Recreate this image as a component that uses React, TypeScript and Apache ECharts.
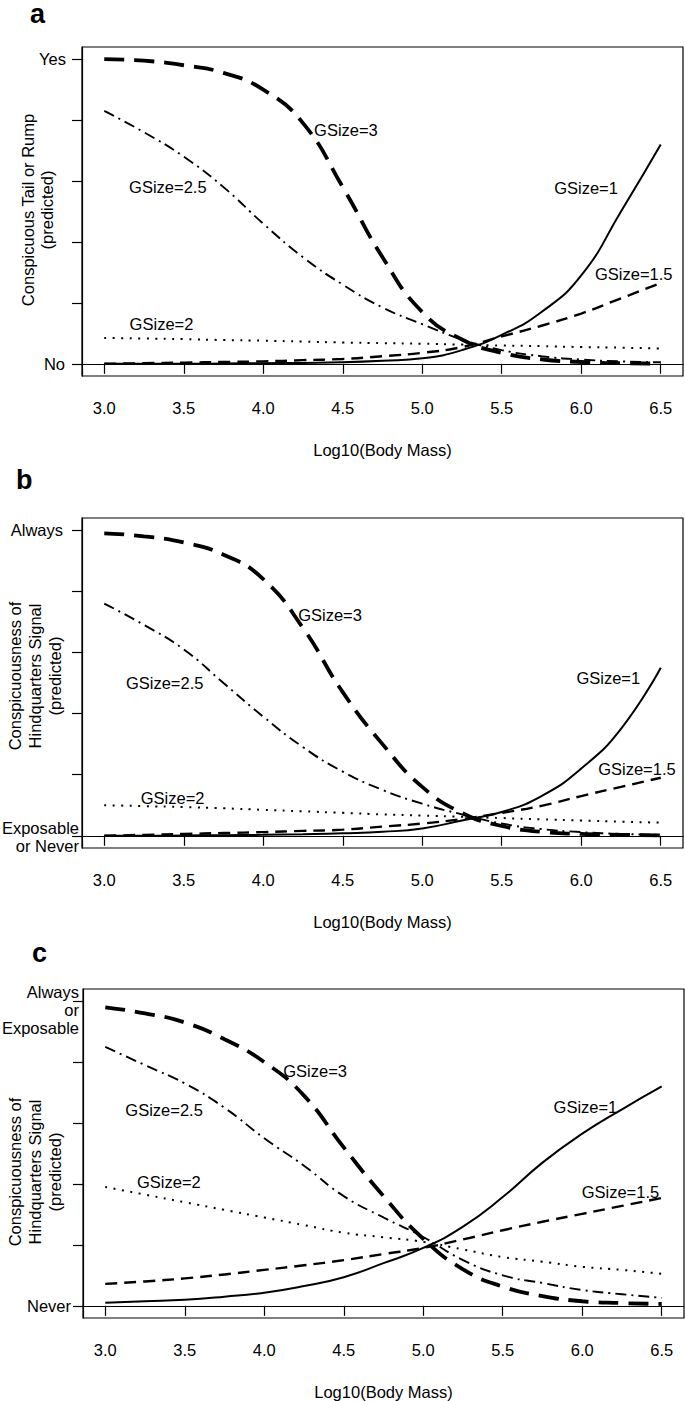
import * as echarts from 'echarts';
import { useEffect, useRef } from 'react';

// sample points along the x axis (log10 body mass)
const logMass = [3.0, 3.25, 3.5, 3.75, 4.0, 4.25, 4.5, 4.75, 5.0, 5.25, 5.5, 5.75, 6.0, 6.25, 6.5];
const xTicks = [3.0, 3.5, 4.0, 4.5, 5.0, 5.5, 6.0, 6.5];
const yTicks = [0, 0.2, 0.4, 0.6, 0.8, 1];
const groupLabels = ['GSize=1', 'GSize=1.5', 'GSize=2', 'GSize=2.5', 'GSize=3'];

// panel a: conspicuous tail or rump
const tailG1 = [0, 0, 0, 0.001, 0.002, 0.003, 0.005, 0.01, 0.018, 0.045, 0.095, 0.17, 0.29, 0.5, 0.72];
const tailG15 = [0, 0.002, 0.004, 0.006, 0.008, 0.012, 0.016, 0.025, 0.036, 0.055, 0.09, 0.125, 0.165, 0.215, 0.265];
const tailG2 = [0.085, 0.083, 0.081, 0.078, 0.076, 0.073, 0.07, 0.068, 0.066, 0.063, 0.06, 0.058, 0.055, 0.053, 0.05];
const tailG25 = [0.83, 0.76, 0.68, 0.58, 0.46, 0.35, 0.26, 0.185, 0.13, 0.08, 0.045, 0.025, 0.014, 0.008, 0.005];
const tailG3 = [1.0, 0.995, 0.98, 0.955, 0.9, 0.79, 0.58, 0.35, 0.17, 0.08, 0.036, 0.015, 0.006, 0.002, 0.001];

// panel b: hindquarters signal (always vs exposable/never)
const hindG1 = [0, 0, 0.001, 0.002, 0.003, 0.005, 0.008, 0.013, 0.024, 0.05, 0.078, 0.13, 0.22, 0.35, 0.55];
const hindG15 = [0, 0.003, 0.006, 0.009, 0.012, 0.016, 0.02, 0.03, 0.04, 0.055, 0.075, 0.098, 0.13, 0.16, 0.19];
const hindG2 = [0.1, 0.097, 0.094, 0.09, 0.085, 0.08, 0.075, 0.07, 0.066, 0.062, 0.058, 0.054, 0.05, 0.046, 0.043];
const hindG25 = [0.76, 0.69, 0.61, 0.5, 0.39, 0.29, 0.21, 0.15, 0.105, 0.07, 0.04, 0.022, 0.012, 0.006, 0.003];
const hindG3 = [0.99, 0.98, 0.96, 0.92, 0.84, 0.68, 0.47, 0.3, 0.16, 0.075, 0.032, 0.013, 0.006, 0.003, 0.001];

// panel c: hindquarters signal (always or exposable vs never)
const exposG1 = [0.01, 0.015, 0.02, 0.03, 0.043, 0.065, 0.094, 0.14, 0.19, 0.26, 0.357, 0.47, 0.565, 0.645, 0.72];
const exposG15 = [0.072, 0.08, 0.09, 0.103, 0.118, 0.133, 0.15, 0.17, 0.19, 0.218, 0.248, 0.276, 0.302, 0.328, 0.354];
const exposG2 = [0.39, 0.365, 0.34, 0.315, 0.29, 0.265, 0.24, 0.225, 0.21, 0.185, 0.16, 0.145, 0.128, 0.118, 0.105];
const exposG25 = [0.85, 0.79, 0.73, 0.65, 0.55, 0.46, 0.36, 0.29, 0.226, 0.15, 0.1, 0.075, 0.052, 0.038, 0.026];
const exposG3 = [0.98, 0.96, 0.93, 0.875, 0.8, 0.69, 0.52, 0.36, 0.22, 0.12, 0.063, 0.032, 0.015, 0.009, 0.006];

// where the curve labels sit, in data coordinates
const labelPosA = [[6.03, 0.576], [6.33, 0.296], [3.36, 0.132], [3.4, 0.579], [4.52, 0.766]];
const labelPosB = [[6.17, 0.516], [6.35, 0.217], [3.43, 0.125], [3.38, 0.5], [4.42, 0.724]];
const labelPosC = [[6.02, 0.652], [6.24, 0.374], [3.4, 0.407], [3.37, 0.643], [4.32, 0.77]];

const FONT = '"Liberation Sans", Arial, Helvetica, sans-serif';
const FS = 16.5;

const lineStyles = [
  { type: 'solid', width: 2 },
  { type: [12, 7], width: 2.4 },
  { type: [2, 6.5], width: 2 },
  { type: [11, 5, 2, 5], width: 1.9 },
  { type: [20, 10], width: 3.8 },
];

const panels = [
  {
    left: 82, top: 47, height: 329,
    curves: [tailG1, tailG15, tailG2, tailG25, tailG3],
    labels: labelPosA,
    letter: 'a', letterX: 30, letterY: 27,
    yTitle: 'Conspicuous Tail or Rump\n(predicted)', titleX: 37.5, titleY: 210, titleLH: 19,
    yLabels: [
      { v: 1, text: 'Yes', right: 66, dy: 0 },
      { v: 0, text: 'No', right: 65, dy: 0 },
    ],
  },
  {
    left: 82, top: 518, height: 330,
    curves: [hindG1, hindG15, hindG2, hindG25, hindG3],
    labels: labelPosB,
    letter: 'b', letterX: 16, letterY: 493,
    yTitle: 'Conspicuousness of\nHindquarters Signal\n(predicted)', titleX: 35, titleY: 676, titleLH: 20,
    yLabels: [
      { v: 1, text: 'Always', right: 63, dy: 0 },
      { v: 0, text: 'Exposable\nor Never', right: 79, dy: 1 },
    ],
  },
  {
    left: 83, top: 989, height: 329,
    curves: [exposG1, exposG15, exposG2, exposG25, exposG3],
    labels: labelPosC,
    letter: 'c', letterX: 32, letterY: 966,
    yTitle: 'Conspicuousness of\nHindquarters Signal\n(predicted)', titleX: 35, titleY: 1172, titleLH: 20,
    yLabels: [
      { v: 1, text: 'Always\nor\nExposable', right: 79, dy: 9 },
      { v: 0, text: 'Never', right: 71, dy: 0 },
    ],
  },
];

export default function App() {
  const chartRef = useRef<HTMLDivElement>(null);

  useEffect(() => {
    if (!chartRef.current) return;
    const chart = echarts.init(chartRef.current, null, { renderer: 'svg' });

    chart.setOption({
      animation: false,
      backgroundColor: '#fff',
      textStyle: { fontFamily: FONT },
      grid: panels.map((p) => ({
        left: p.left,
        top: p.top,
        width: 601,
        height: p.height,
        show: true,
        borderColor: '#000',
        borderWidth: 1.2,
        backgroundColor: 'transparent',
      })),
      xAxis: panels.map((_, i) => ({
        type: 'value',
        gridIndex: i,
        min: 2.86,
        max: 6.64,
        name: 'Log10(Body Mass)',
        nameLocation: 'middle',
        nameGap: 65,
        nameTextStyle: { fontSize: FS, color: '#000', fontFamily: FONT },
        axisLine: { show: true, lineStyle: { color: '#000', width: 1.2 } },
        splitLine: { show: false },
        axisTick: {
          show: true,
          inside: false,
          length: 10,
          customValues: xTicks,
          lineStyle: { color: '#000', width: 1.2 },
        },
        axisLabel: {
          customValues: xTicks,
          margin: 23,
          fontSize: FS,
          color: '#000',
          fontFamily: FONT,
          formatter: (v: number) => v.toFixed(1),
        },
      })),
      yAxis: panels.map((_, i) => ({
        type: 'value',
        gridIndex: i,
        min: -0.04,
        max: 1.04,
        axisLine: { show: true, lineStyle: { color: '#000', width: 1.2 } },
        splitLine: { show: false },
        axisTick: {
          show: true,
          inside: false,
          length: 10,
          customValues: yTicks,
          lineStyle: { color: '#000', width: 1.2 },
        },
        axisLabel: { show: false },
      })),
      series: panels.flatMap((p, i) =>
        p.curves.map((vals, k) => ({
          type: 'line',
          name: groupLabels[k],
          xAxisIndex: i,
          yAxisIndex: i,
          data: logMass.map((x, j) => [x, vals[j]]),
          smooth: 0.5,
          showSymbol: false,
          silent: true,
          lineStyle: { color: '#000', ...lineStyles[k], cap: 'butt' },
        }))
      ),
    });

    const graphics: any[] = [];
    panels.forEach((p, i) => {
      p.labels.forEach((pos, k) => {
        const [px, py] = chart.convertToPixel({ gridIndex: i }, pos) as number[];
        graphics.push({
          type: 'text',
          x: px,
          y: py,
          silent: true,
          style: {
            text: groupLabels[k],
            fontSize: FS,
            fontFamily: FONT,
            fill: '#000',
            align: 'center',
            verticalAlign: 'middle',
          },
        });
      });
      p.yLabels.forEach((l) => {
        const py = chart.convertToPixel({ yAxisIndex: i }, l.v) as number;
        graphics.push({
          type: 'text',
          x: l.right,
          y: py + l.dy,
          silent: true,
          style: {
            text: l.text,
            fontSize: FS,
            fontFamily: FONT,
            fill: '#000',
            align: 'right',
            verticalAlign: 'middle',
            lineHeight: 18,
          },
        });
      });
      graphics.push({
        type: 'text',
        x: p.titleX,
        y: p.titleY,
        rotation: Math.PI / 2,
        silent: true,
        style: {
          text: p.yTitle,
          fontSize: FS,
          fontFamily: FONT,
          fill: '#000',
          align: 'center',
          verticalAlign: 'middle',
          lineHeight: p.titleLH,
        },
      });
      graphics.push({
        type: 'text',
        x: p.letterX,
        y: p.letterY,
        silent: true,
        style: {
          text: p.letter,
          fontSize: 27,
          fontWeight: 'bold',
          fontFamily: FONT,
          fill: '#000',
          align: 'left',
          verticalAlign: 'bottom',
        },
      });
    });
    chart.setOption({ graphic: graphics });

    return () => chart.dispose();
  }, []);

  return (
    <div
      ref={chartRef}
      style={{ position: 'absolute', left: 0, top: 0, width: 685, height: 1401 }}
    />
  );
}
